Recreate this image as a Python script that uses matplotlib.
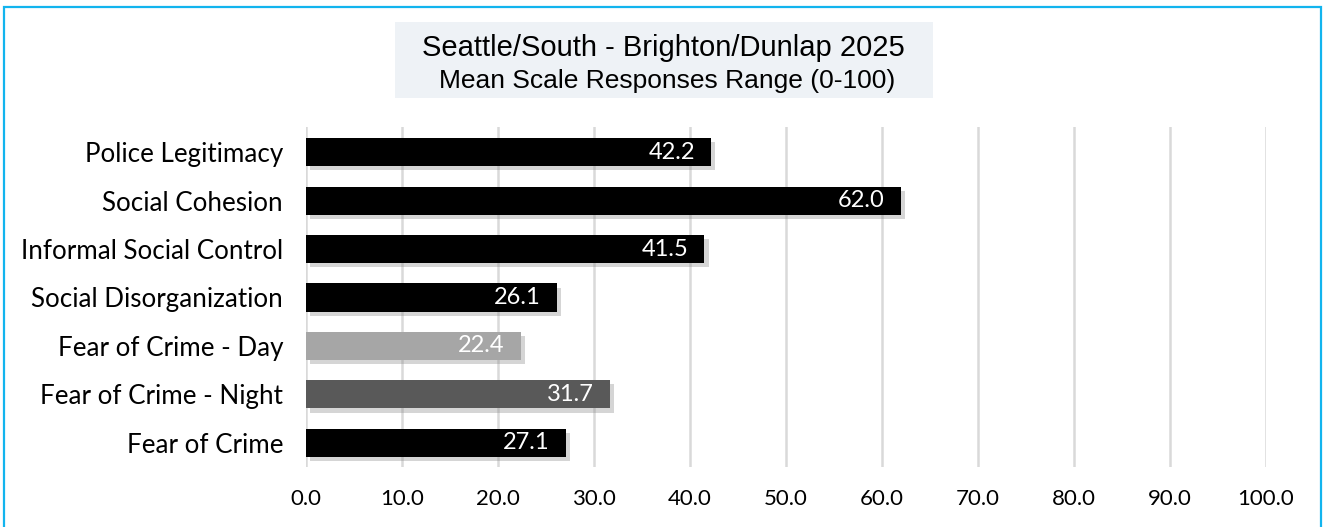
import matplotlib
matplotlib.use('Agg')
import matplotlib.pyplot as plt
import matplotlib.patheffects as pe
from matplotlib.patches import Rectangle

# Data
categories = ['Police Legitimacy', 'Social Cohesion', 'Informal Social Control',
              'Social Disorganization', 'Fear of Crime - Day', 'Fear of Crime - Night',
              'Fear of Crime']
values = [42.2, 62.0, 41.5, 26.1, 22.4, 31.7, 27.1]
bar_colors = ['#000000', '#000000', '#000000', '#000000', '#A6A6A6', '#595959', '#000000']
xticks = [0, 10, 20, 30, 40, 50, 60, 70, 80, 90, 100]

title_line1 = 'Seattle/South - Brighton/Dunlap 2025'
title_line2 = 'Mean Scale Responses Range (0-100)'

W, H = 1323, 527
fig = plt.figure(figsize=(W / 100, H / 100), dpi=100)
fig.patch.set_facecolor('white')

# outer blue frame
fig.patches.append(Rectangle((3.5 / W, -0.05), (1321 - 3.5) / W, 1.05 - 6.5 / H,
                             transform=fig.transFigure, fill=False,
                             edgecolor='#12B4EE', linewidth=1.6))

# title box
fig.patches.append(Rectangle((395 / W, 1 - 98 / H), (933 - 395) / W, (98 - 22) / H,
                             transform=fig.transFigure, facecolor='#EEF2F6',
                             edgecolor='none'))
fig.text(663 / W, 1 - 56 / H, title_line1, ha='center', va='baseline',
         fontsize=21, family='Liberation Sans', color='#000000')
fig.text(667 / W, 1 - 88 / H, title_line2, ha='center', va='baseline',
         fontsize=19, family='Liberation Sans', color='#000000')

ax = fig.add_axes([306 / W, 1 - 467 / H, (1266 - 306) / W, (467 - 127) / H])
ax.set_facecolor('none')

ypos = list(range(len(categories)))
shadow = [pe.SimplePatchShadow(offset=(3, -3), shadow_rgbFace='#888888', alpha=0.35),
          pe.Normal()]
bars = ax.barh(ypos, values, height=0.58, color=bar_colors, zorder=3)
for b in bars:
    b.set_path_effects(shadow)

for b, v in zip(bars, values):
    ax.text(v - 1.7, b.get_y() + b.get_height() / 2, f'{v:.1f}', ha='right',
            va='center', color='white', fontsize=17, family='Lato', zorder=4)

ax.set_xlim(0, 100)
ax.set_ylim(len(categories) - 0.5, -0.52)
ax.set_xticks(xticks)
ax.set_xticklabels([f'{t:.1f}' for t in xticks], fontsize=16, family='Lato')
ax.set_yticks(ypos)
ax.set_yticklabels(categories, fontsize=18.7, family='Lato')
ax.tick_params(axis='x', length=0, pad=16, colors='#000000')
ax.tick_params(axis='y', length=0, pad=16.5, colors='#000000')
ax.grid(axis='x', color='#D9D9D9', linewidth=1.8, zorder=0)
ax.set_axisbelow(True)
for s in ax.spines.values():
    s.set_visible(False)

fig.savefig('out.png', dpi=100, facecolor='white')
